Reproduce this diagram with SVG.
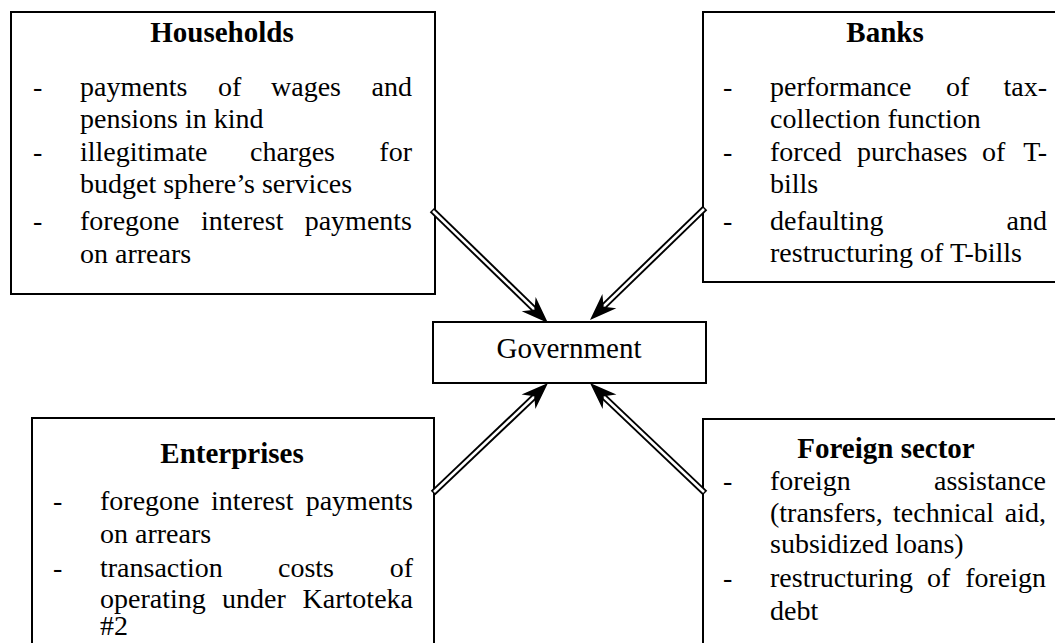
<svg xmlns="http://www.w3.org/2000/svg" width="1055" height="643" viewBox="0 0 1055 643">
<style>
  .box { fill: #ffffff; stroke: #000000; stroke-width: 2; }
  text { font-family: "Liberation Serif", "Times New Roman", serif; fill: #000000; }
  .t { font-size: 29px; font-weight: bold; text-anchor: middle; }
  .b { font-size: 28px; }
  .e { text-anchor: end; }
  .g { font-size: 29px; text-anchor: middle; }
  .shaftO { stroke: #000000; stroke-width: 6.5; fill: none; }
  .shaftI { stroke: #ffffff; stroke-width: 2.6; fill: none; }
</style>
<defs>
  <path id="head" d="M0,0 L-27,-10 L-19,0 L-27,10 Z" fill="#000000"/>
</defs>
<rect width="1055" height="643" fill="#ffffff"/>

<g id="households">
  <rect class="box" x="11" y="12" width="424" height="282"/>
  <text class="t" x="222" y="42">Households</text>
  <text class="b" x="33" y="96">-</text>
  <text class="b" x="80" y="96">payments</text>
  <text class="b" x="218" y="96">of</text>
  <text class="b" x="271" y="96">wages</text>
  <text class="b e" x="412" y="96">and</text>
  <text class="b" x="80" y="128">pensions in kind</text>
  <text class="b" x="33" y="161">-</text>
  <text class="b" x="80" y="161">illegitimate</text>
  <text class="b" x="250" y="161">charges</text>
  <text class="b e" x="412" y="161">for</text>
  <text class="b" x="80" y="193">budget sphere’s services</text>
  <text class="b" x="33" y="230">-</text>
  <text class="b" x="80" y="230">foregone</text>
  <text class="b" x="201" y="230">interest</text>
  <text class="b e" x="412" y="230">payments</text>
  <text class="b" x="80" y="263">on arrears</text>
</g>

<g id="banks">
  <rect class="box" x="703" y="12" width="360" height="270"/>
  <text class="t" x="885" y="42">Banks</text>
  <text class="b" x="723" y="96">-</text>
  <text class="b" x="770" y="96">performance</text>
  <text class="b" x="946" y="96">of</text>
  <text class="b e" x="1047" y="96">tax-</text>
  <text class="b" x="770" y="128">collection function</text>
  <text class="b" x="723" y="161">-</text>
  <text class="b" x="770" y="161">forced</text>
  <text class="b" x="857" y="161">purchases</text>
  <text class="b" x="982" y="161">of</text>
  <text class="b e" x="1047" y="161">T-</text>
  <text class="b" x="770" y="193">bills</text>
  <text class="b" x="723" y="230">-</text>
  <text class="b" x="770" y="230">defaulting</text>
  <text class="b e" x="1047" y="230">and</text>
  <text class="b" x="770" y="262">restructuring of T-bills</text>
</g>

<g id="government">
  <rect class="box" x="433" y="322" width="273" height="61"/>
  <text class="g" x="569" y="358">Government</text>
</g>

<g id="enterprises">
  <rect class="box" x="32" y="418" width="402" height="240"/>
  <text class="t" x="232" y="463">Enterprises</text>
  <text class="b" x="53" y="510">-</text>
  <text class="b" x="100" y="510">foregone</text>
  <text class="b" x="211" y="510">interest</text>
  <text class="b e" x="413" y="510">payments</text>
  <text class="b" x="100" y="543">on arrears</text>
  <text class="b" x="53" y="577">-</text>
  <text class="b" x="100" y="577">transaction</text>
  <text class="b" x="278" y="577">costs</text>
  <text class="b e" x="413" y="577">of</text>
  <text class="b" x="100" y="608">operating</text>
  <text class="b" x="222" y="608">under</text>
  <text class="b e" x="413" y="608">Kartoteka</text>
  <text class="b" x="100" y="635">#2</text>
</g>

<g id="foreign-sector">
  <rect class="box" x="703" y="419" width="360" height="240"/>
  <text class="t" x="886" y="458">Foreign sector</text>
  <text class="b" x="723" y="490">-</text>
  <text class="b" x="770" y="490">foreign</text>
  <text class="b e" x="1046" y="490">assistance</text>
  <text class="b" x="770" y="522">(transfers,</text>
  <text class="b" x="893" y="522">technical</text>
  <text class="b e" x="1046" y="522">aid,</text>
  <text class="b" x="770" y="553">subsidized loans)</text>
  <text class="b" x="723" y="587">-</text>
  <text class="b" x="770" y="587">restructuring</text>
  <text class="b" x="927" y="587">of</text>
  <text class="b e" x="1046" y="587">foreign</text>
  <text class="b" x="770" y="620">debt</text>
</g>

<g id="connectors">
  <line class="shaftO" x1="432" y1="210" x2="534" y2="309"/>
  <line class="shaftI" x1="433" y1="211" x2="534" y2="309"/>
  <use href="#head" transform="translate(548,323) rotate(44.3)"/>

  <line class="shaftO" x1="705" y1="208" x2="604" y2="306"/>
  <line class="shaftI" x1="704" y1="209" x2="604" y2="306"/>
  <use href="#head" transform="translate(590,320) rotate(135.8)"/>

  <line class="shaftO" x1="433" y1="493" x2="534" y2="397"/>
  <line class="shaftI" x1="434" y1="492" x2="534" y2="397"/>
  <use href="#head" transform="translate(548,383) rotate(-43.7)"/>

  <line class="shaftO" x1="705" y1="493" x2="604" y2="397"/>
  <line class="shaftI" x1="704" y1="492" x2="604" y2="397"/>
  <use href="#head" transform="translate(590,383) rotate(-136.3)"/>
</g>
</svg>
